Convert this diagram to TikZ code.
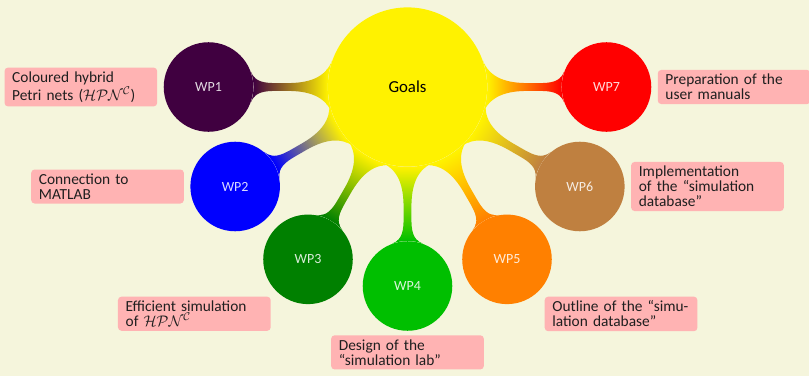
\documentclass[tikz,border=0pt]{standalone}
\usepackage{fontspec}
\setmainfont{Carlito}
\setsansfont{Carlito}
\usetikzlibrary{mindmap,calc}

\definecolor{bgcol}{RGB}{245,245,220}
\definecolor{goalcol}{RGB}{255,242,0}
\definecolor{wpa}{RGB}{64,0,64}
\definecolor{wpb}{RGB}{0,0,255}
\definecolor{wpc}{RGB}{0,128,0}
\definecolor{wpd}{RGB}{0,191,0}
\definecolor{wpe}{RGB}{255,128,0}
\definecolor{wpf}{RGB}{191,128,64}
\definecolor{wpg}{RGB}{255,0,0}
\definecolor{notepink}{RGB}{255,179,179}

\pgfdeclarelayer{backdrop}
\pgfdeclarelayer{links}
\pgfsetlayers{backdrop,links,main}

\tikzset{
  goal/.style={circle, minimum size=4cm, inner sep=0pt, fill=goalcol,
    font=\fontsize{12}{13}\selectfont},
  wp/.style={circle, minimum size=2.25cm, inner sep=0pt, fill=#1,
    text=white, text opacity=0.85, font=\fontsize{10}{11}\selectfont},
  note/.style={rectangle, fill=notepink, rounded corners=2.5pt,
    text width=3.45cm, inner xsep=5.5pt, inner ysep=3pt, align=left,
    text=black!88, font=\fontsize{11}{10.7}\selectfont},
  every circle connection bar/.style={line width=7.2pt},
  link/.style 2 args={line width=7.2pt,
    circle connection bar switch color=from (#1) to (#2)}
}

\newcommand{\hpnc}{$\mathcal{HPN}^{\mathcal{C}}$}

\begin{document}
\begin{tikzpicture}
\useasboundingbox (-10.239,-7.261) rectangle (10.088,2.186);
\begin{pgfonlayer}{backdrop}
  \fill[bgcol] (-10.239,-7.261) rectangle (10.088,2.186);
\end{pgfonlayer}

% central goal and the seven work packages
\node[goal] (goals) at (0,0) {Goals};
\node[wp=wpa] (wp1) at (180:5) {WP1};
\node[wp=wpb] (wp2) at (210:5) {WP2};
\node[wp=wpc] (wp3) at (240:5) {WP3};
\node[wp=wpd] (wp4) at (270:5) {WP4};
\node[wp=wpe] (wp5) at (300:5) {WP5};
\node[wp=wpf] (wp6) at (330:5) {WP6};
\node[wp=wpg] (wp7) at (0:5) {WP7};

% shaded connection bars
\begin{pgfonlayer}{links}
  \path (goals) to[link={goalcol}{wpa}] (wp1);
  \path (goals) to[link={goalcol}{wpb}] (wp2);
  \path (goals) to[link={goalcol}{wpc}] (wp3);
  \path (goals) to[link={goalcol}{wpd}] (wp4);
  \path (goals) to[link={goalcol}{wpe}] (wp5);
  \path (goals) to[link={goalcol}{wpf}] (wp6);
  \path (goals) to[link={goalcol}{wpg}] (wp7);
\end{pgfonlayer}

% descriptions of the work packages
\node[note, anchor=east] (n1) at ([xshift=-0.15cm]wp1.west)
  {\mbox{Coloured hybrid}\\\mbox{Petri nets (\hpnc)}};
\node[note, anchor=east] (n2) at ([xshift=-0.15cm]wp2.west)
  {\mbox{Connection to}\\\mbox{MATLAB}};
\node[note, anchor=north east] (n3) at ([shift={(-0.13,-0.13)}]wp3.south west)
  {\mbox{Efficient simulation}\\\mbox{of \hpnc}};
\node[note, anchor=north] (n4) at ([yshift=-0.1cm]wp4.south)
  {\mbox{Design of the}\\\mbox{“simulation lab”}};
\node[note, anchor=north west] (n5) at ([shift={(0.14,-0.13)}]wp5.south east)
  {\mbox{Outline of the “simu-}\\\mbox{lation database”}};
\node[note, anchor=west] (n6) at ([xshift=0.15cm]wp6.east)
  {\mbox{Implementation}\\\mbox{of the “simulation}\\\mbox{database”}};
\node[note, anchor=west] (n7) at ([xshift=0.15cm]wp7.east)
  {\mbox{Preparation of the}\\\mbox{user manuals}};
\end{tikzpicture}
\end{document}
